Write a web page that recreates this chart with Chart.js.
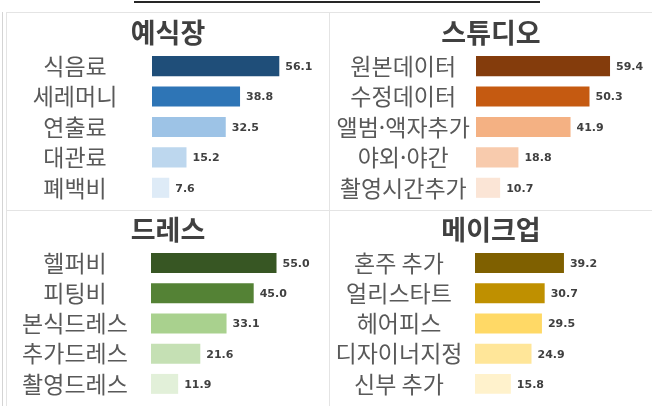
<!DOCTYPE html>
<html lang="ko">
<head>
    <meta charset="UTF-8">
    <title>웨딩 추가비용</title>
    <script src="https://cdn.jsdelivr.net/npm/chart.js"></script>
    <style>
        body {
            margin: 0;
            background: #fff;
            font-family: 'Noto Sans CJK KR', sans-serif;
        }
        #wrap {
            position: relative;
            width: 652px;
            height: 406px;
            overflow: hidden;
        }
        .panel {
            position: absolute;
        }
        .line {
            position: absolute;
            background: #e4e4e4;
        }
    </style>
</head>
<body>
<div id="wrap">
    <div class="line" style="left:134px;top:1px;width:406px;height:2px;background:#262626"></div>
    <div class="line" style="left:2px;top:12px;width:1px;height:394px;background:#d4d4d4"></div>
    <div class="line" style="left:6px;top:12px;width:1px;height:394px"></div>
    <div class="line" style="left:6px;top:12px;width:646px;height:1px"></div>
    <div class="line" style="left:329px;top:12px;width:1px;height:394px"></div>
    <div class="line" style="left:6px;top:210px;width:646px;height:1px"></div>

    <div class="panel" style="left:7px;top:13px;width:322px;height:197px"><canvas id="c1"></canvas></div>
    <div class="panel" style="left:330px;top:13px;width:322px;height:197px"><canvas id="c2"></canvas></div>
    <div class="panel" style="left:7px;top:211px;width:322px;height:195px"><canvas id="c3"></canvas></div>
    <div class="panel" style="left:330px;top:211px;width:322px;height:195px"><canvas id="c4"></canvas></div>
</div>

<script>
    // data
    const hallTitle = '예식장';
    const hallLabels = ['식음료', '세레머니', '연출료', '대관료', '폐백비'];
    const hallValues = [56.1, 38.8, 32.5, 15.2, 7.6];
    const hallColors = ['#1f4e79', '#2e75b6', '#9dc3e6', '#bdd7ee', '#deebf7'];

    const studioTitle = '스튜디오';
    const studioLabels = ['원본데이터', '수정데이터', '앨범·액자추가', '야외·야간', '촬영시간추가'];
    const studioValues = [59.4, 50.3, 41.9, 18.8, 10.7];
    const studioColors = ['#843c0c', '#c55a11', '#f4b183', '#f8cbad', '#fbe5d6'];

    const dressTitle = '드레스';
    const dressLabels = ['헬퍼비', '피팅비', '본식드레스', '추가드레스', '촬영드레스'];
    const dressValues = [55.0, 45.0, 33.1, 21.6, 11.9];
    const dressColors = ['#375623', '#548235', '#a9d18e', '#c5e0b4', '#e2f0d9'];

    const makeupTitle = '메이크업';
    const makeupLabels = ['혼주 추가', '얼리스타트', '헤어피스', '디자이너지정', '신부 추가'];
    const makeupValues = [39.2, 30.7, 29.5, 24.9, 15.8];
    const makeupColors = ['#7f6000', '#bf9000', '#ffd966', '#ffe699', '#fff2cc'];

    const xMax = 78;
    const labelFont = { family: "'Noto Sans CJK KR', sans-serif", size: 23 };
    const titleFont = { family: "'Noto Sans CJK KR', sans-serif", size: 27, weight: 'bold' };

    function widestLabel(labels) {
        const c = document.createElement('canvas').getContext('2d');
        c.font = labelFont.size + 'px ' + labelFont.family;
        return Math.max(...labels.map(l => c.measureText(l).width));
    }

    // value labels to the right of each bar
    const valueLabels = {
        id: 'valueLabels',
        afterDatasetsDraw(chart) {
            const ctx = chart.ctx;
            const meta = chart.getDatasetMeta(0);
            ctx.save();
            ctx.font = 'bold 11px "DejaVu Sans", sans-serif';
            ctx.fillStyle = '#404040';
            ctx.textBaseline = 'middle';
            ctx.textAlign = 'left';
            meta.data.forEach((bar, i) => {
                ctx.fillText(chart.data.datasets[0].data[i].toFixed(1), bar.x + 6, bar.y + 1);
            });
            ctx.restore();
        }
    };

    function makePanel(id, title, labels, values, colors, axisWidth, labelCenter, top, bottom) {
        const pad = axisWidth - labelCenter - widestLabel(labels) / 2;
        new Chart(document.getElementById(id), {
            type: 'bar',
            data: {
                labels: labels,
                datasets: [{
                    data: values,
                    backgroundColor: colors,
                    barPercentage: 0.66,
                    categoryPercentage: 1
                }]
            },
            options: {
                indexAxis: 'y',
                responsive: true,
                maintainAspectRatio: false,
                animation: false,
                layout: { padding: { left: 0, right: 0, top: top, bottom: bottom } },
                plugins: {
                    legend: { display: false },
                    tooltip: { enabled: false },
                    title: {
                        display: true,
                        text: title,
                        color: '#404040',
                        font: titleFont,
                        padding: { top: 0, bottom: 1.5 }
                    }
                },
                scales: {
                    x: { display: false, min: 0, max: xMax },
                    y: {
                        grid: { display: false, drawTicks: false },
                        border: { display: false },
                        ticks: {
                            color: '#595959',
                            font: labelFont,
                            crossAlign: 'center',
                            padding: pad,
                            autoSkip: false
                        },
                        afterFit(scale) {
                            scale.width = axisWidth;
                            scale.paddingTop = 0;
                            scale.paddingBottom = 0;
                        }
                    }
                }
            },
            plugins: [valueLabels]
        });
    }

    makePanel('c1', hallTitle, hallLabels, hallValues, hallColors, 145, 68, 4, 7);
    makePanel('c2', studioTitle, studioLabels, studioValues, studioColors, 146, 70, 4, 7);
    makePanel('c3', dressTitle, dressLabels, dressValues, dressColors, 144, 68, 3, 7);
    makePanel('c4', makeupTitle, makeupLabels, makeupValues, makeupColors, 145, 69, 3, 7);
</script>
</body>
</html>
